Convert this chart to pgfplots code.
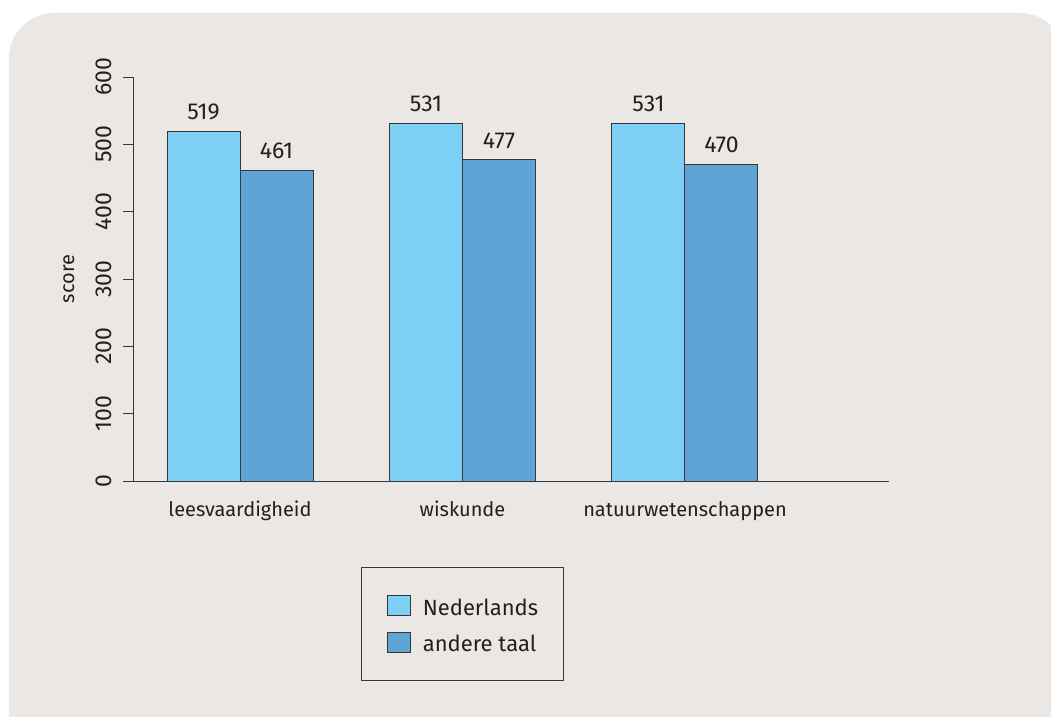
\documentclass[border=0pt]{standalone}
\usepackage{pgfplots}
\pgfplotsset{compat=1.18}
\usepackage{fontspec}
\setmainfont{Fira Sans}
\definecolor{bg}{RGB}{235,231,228}
\definecolor{ned}{RGB}{125,207,244}
\definecolor{oth}{RGB}{94,165,214}
\definecolor{txt}{RGB}{35,31,32}
\definecolor{ax}{RGB}{55,55,55}
\pgfplotsset{boxlegend/.style={legend image code/.code={\draw[##1] (0pt,-0.5pt) rectangle (23pt,19.5pt);}}}
\begin{document}
\begin{tikzpicture}[x=1pt,y=1pt]
\useasboundingbox (0,0) rectangle (1051,716);
\fill[white] (0,0) rectangle (1051,716);
\fill[bg, rounded corners=45pt] (9,-100) -- (9,703) -- (1065,703) -- (1065,-100) -- cycle;
\begin{axis}[
  at={(133pt,235pt)}, anchor=south west,
  scale only axis, width=756pt, height=404pt,
  xmin=-0.481, xmax=2.917, ymin=0, ymax=600,
  axis x line=bottom, axis y line=left,
  axis line style={-, draw=ax, line width=1pt},
  ybar=0pt, bar width=73pt,
  /pgf/number format/assume math mode=true,
  xtick={0,1,2},
  xticklabels={leesvaardigheid,wiskunde,natuurwetenschappen},
  xtick style={draw=none},
  ytick={0,100,...,600},
  ytick style={draw=ax, line width=1pt},
  major tick length=10pt, tick align=outside,
  xticklabel style={font=\fontsize{20}{24}\selectfont, text=txt, inner sep=0pt, yshift=-10pt, anchor=north},
  yticklabel style={xshift=-11pt, rotate=90, anchor=south, font=\fontsize{23}{27}\selectfont, text=txt, inner sep=0pt},
  ylabel={score},
  every axis y label/.style={at={(axis description cs:-0.0847,0.5)}, rotate=90, anchor=center, font=\fontsize{20}{24}\selectfont, text=txt},
  nodes near coords,
  every node near coord/.append style={font=\fontsize{23}{27}\selectfont, text=txt, inner sep=0pt, anchor=south, yshift=11pt},
  legend style={at={(0.4358,-0.2129)}, anchor=north, draw=ax, line width=1pt, fill=none,
    inner xsep=25pt, inner ysep=27.5pt, row sep=15pt,
    font=\fontsize{22}{26}\selectfont, text=txt,
    nodes={inner sep=0pt, anchor=base west},
    /tikz/every odd column/.append style={column sep=12pt}},
  legend cell align=left,
]
\addplot[fill=ned, draw=ax, line width=1pt, boxlegend]
  coordinates {(0,519) (1,531) (2,531)};
\addplot[fill=oth, draw=ax, line width=1pt, boxlegend]
  coordinates {(0,461) (1,477) (2,470)};
\legend{Nederlands, andere taal}
\end{axis}
\end{tikzpicture}
\end{document}
